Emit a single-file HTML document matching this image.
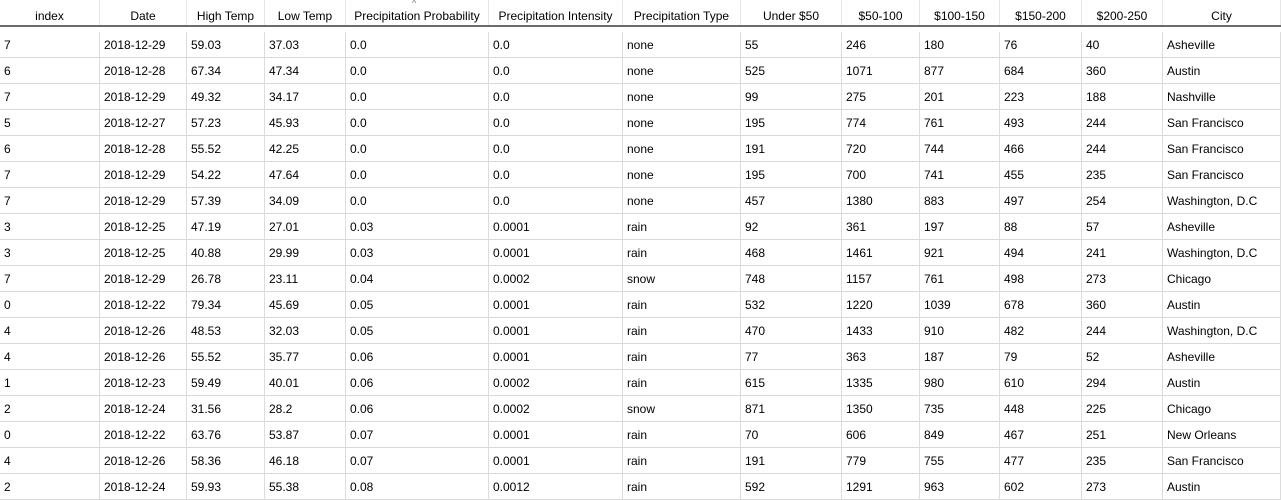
<!DOCTYPE html>
<html><head><meta charset="utf-8"><style>
body{margin:0;width:1281px;height:489px;overflow:hidden;background:#fff;font-family:"Liberation Sans",sans-serif;font-size:12px;color:#000}
#hdr{position:absolute;left:0;top:0;width:1281px;height:25px;border-bottom:2px solid #6b6b6b;background:#fff}
.h{position:absolute;top:0;height:25px;text-align:center;border-right:1px solid #e6e6e6;box-sizing:border-box;white-space:nowrap;overflow:hidden}
.row{position:absolute;left:0;width:1281px;height:26px;border-bottom:1px solid #d9d9d9;box-sizing:border-box}
.c{position:absolute;top:0;height:26px;line-height:26px;padding-left:4px;border-right:1px solid #dcdcdc;box-sizing:border-box;white-space:nowrap;overflow:hidden}
#caret{position:absolute;left:412px;top:-2px;font-size:9px;color:#777}
</style></head><body>
<div id="hdr"></div>
<div id="body"></div>
<script>
const cols=[0,100,187,265,346,489,623,741,842,920,1000,1082,1163,1281];
const headers=["index","Date","High Temp","Low Temp","Precipitation Probability","Precipitation Intensity","Precipitation Type","Under $50","$50-100","$100-150","$150-200","$200-250","City"];
const rows=[
["7","2018-12-29","59.03","37.03","0.0","0.0","none","55","246","180","76","40","Asheville"],
["6","2018-12-28","67.34","47.34","0.0","0.0","none","525","1071","877","684","360","Austin"],
["7","2018-12-29","49.32","34.17","0.0","0.0","none","99","275","201","223","188","Nashville"],
["5","2018-12-27","57.23","45.93","0.0","0.0","none","195","774","761","493","244","San Francisco"],
["6","2018-12-28","55.52","42.25","0.0","0.0","none","191","720","744","466","244","San Francisco"],
["7","2018-12-29","54.22","47.64","0.0","0.0","none","195","700","741","455","235","San Francisco"],
["7","2018-12-29","57.39","34.09","0.0","0.0","none","457","1380","883","497","254","Washington, D.C"],
["3","2018-12-25","47.19","27.01","0.03","0.0001","rain","92","361","197","88","57","Asheville"],
["3","2018-12-25","40.88","29.99","0.03","0.0001","rain","468","1461","921","494","241","Washington, D.C"],
["7","2018-12-29","26.78","23.11","0.04","0.0002","snow","748","1157","761","498","273","Chicago"],
["0","2018-12-22","79.34","45.69","0.05","0.0001","rain","532","1220","1039","678","360","Austin"],
["4","2018-12-26","48.53","32.03","0.05","0.0001","rain","470","1433","910","482","244","Washington, D.C"],
["4","2018-12-26","55.52","35.77","0.06","0.0001","rain","77","363","187","79","52","Asheville"],
["1","2018-12-23","59.49","40.01","0.06","0.0002","rain","615","1335","980","610","294","Austin"],
["2","2018-12-24","31.56","28.2","0.06","0.0002","snow","871","1350","735","448","225","Chicago"],
["0","2018-12-22","63.76","53.87","0.07","0.0001","rain","70","606","849","467","251","New Orleans"],
["4","2018-12-26","58.36","46.18","0.07","0.0001","rain","191","779","755","477","235","San Francisco"],
["2","2018-12-24","59.93","55.38","0.08","0.0012","rain","592","1291","963","602","273","Austin"]
];
const hdr=document.getElementById('hdr');
headers.forEach((t,i)=>{
  const d=document.createElement('div');d.className='h';
  
  
  d.style.left=cols[i]+'px';d.style.width=(cols[i+1]-cols[i])+'px';d.style.lineHeight='32px';
  d.textContent=t;hdr.appendChild(d);
});
const car=document.createElement('div');car.id='caret';car.textContent='^';


hdr.appendChild(car);
const body=document.getElementById('body');
rows.forEach((r,ri)=>{
  const rw=document.createElement('div');rw.className='row';
  
  
  rw.style.top=(32+ri*26)+'px';
  r.forEach((t,i)=>{
    const c=document.createElement('div');c.className='c';
    
    
    c.style.left=cols[i]+'px';c.style.width=(cols[i+1]-cols[i])+'px';
    c.textContent=t;rw.appendChild(c);
  });
  body.appendChild(rw);
});
</script>
</body></html>
